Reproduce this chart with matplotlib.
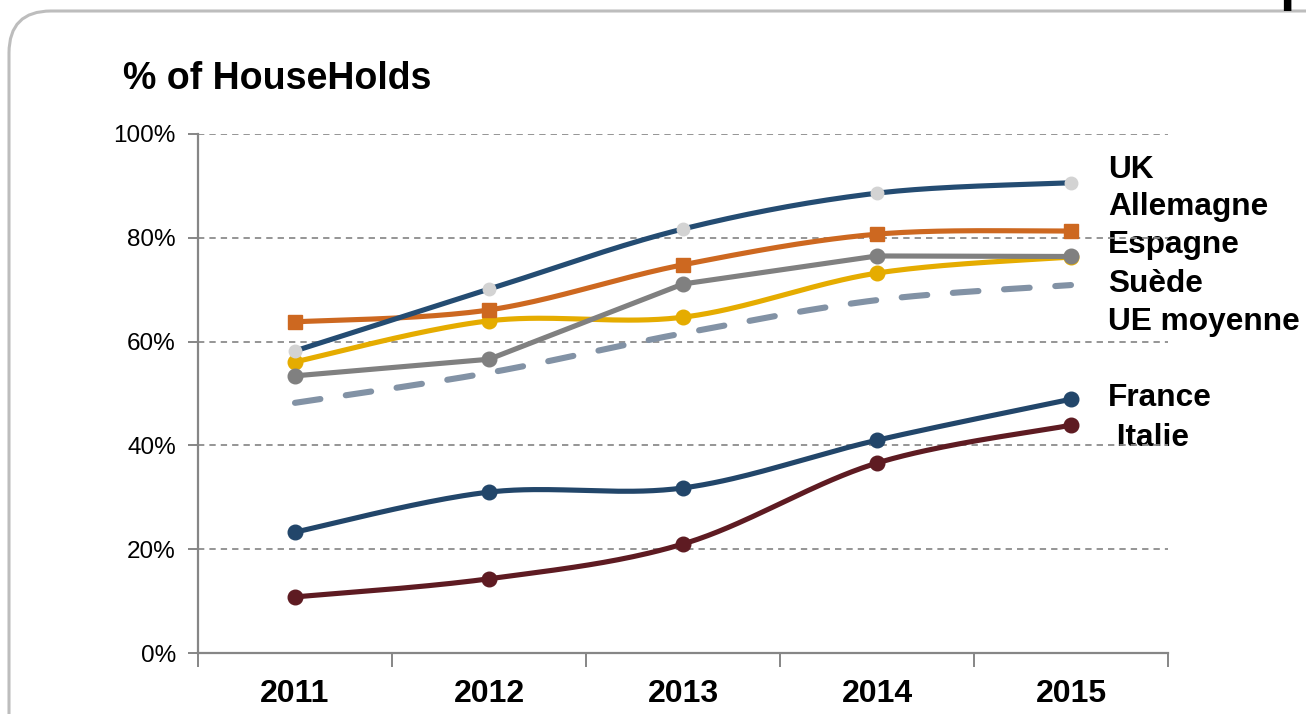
import numpy as np
import matplotlib
matplotlib.use("Agg")
import matplotlib.pyplot as plt
from matplotlib.patches import FancyBboxPatch

plt.rcParams['font.family'] = ['Liberation Sans', 'DejaVu Sans']

years = ["2011", "2012", "2013", "2014", "2015"]
uk = [58.2, 70.1, 81.7, 88.6, 90.6]
allemagne = [63.8, 66.1, 74.8, 80.7, 81.3]
espagne = [56.1, 64.0, 64.7, 73.2, 76.3]
suede = [53.4, 56.6, 71.1, 76.5, 76.4]
ue_moyenne = [48.2, 54.0, 61.6, 68.0, 70.9]
france = [23.3, 31.0, 31.8, 41.0, 48.9]
italie = [10.8, 14.3, 21.0, 36.6, 43.9]
y_ticks = [0, 20, 40, 60, 80, 100]
y_tick_labels = ["0%", "20%", "40%", "60%", "80%", "100%"]
labels = ["UK", "Allemagne", "Espagne", "Suède", "UE moyenne", "France", " Italie"]

W, H = 1306, 714
fig = plt.figure(figsize=(W / 100, H / 100), dpi=100)

# background overlay in pixel coordinates
bg = fig.add_axes([0, 0, 1, 1], zorder=-1)
bg.set_xlim(0, W)
bg.set_ylim(H, 0)
bg.axis('off')
bg.add_patch(FancyBboxPatch((9, 11), 1400, 800, boxstyle="round,pad=0,rounding_size=42",
                            fc='white', ec='#BDBDBD', lw=2.2))
bg.text(1279, -1, "p", fontsize=40, fontweight='bold', ha='left', va='baseline', color='black')
bg.text(123, 79, "% of HouseHolds", fontsize=27, fontweight='bold', ha='left', va='center')

ax = fig.add_axes([198 / W, 1 - 653 / H, (1168 - 198) / W, (653 - 134) / H])
ax.set_facecolor('none')
ax.set_xlim(-0.5, 4.5)
ax.set_ylim(0, 100)


def smooth(xs, ys, n=40):
    P = np.column_stack([xs, ys]).astype(float)
    ext = np.vstack([P[0], P, P[-1]])
    out = [P[0]]
    t = np.linspace(0, 1, n)[1:, None]
    for i in range(len(P) - 1):
        p0, p1, p2, p3 = ext[i], ext[i + 1], ext[i + 2], ext[i + 3]
        c1 = p1 + (p2 - p0) / 6
        c2 = p2 - (p3 - p1) / 6
        seg = ((1 - t) ** 3) * p1 + 3 * ((1 - t) ** 2) * t * c1 + 3 * (1 - t) * t ** 2 * c2 + t ** 3 * p2
        out.extend(seg)
    out = np.array(out)
    return out[:, 0], out[:, 1]


x = np.arange(len(years))
lw = 3.7

def draw(vals, color, smooth_it=True, marker='o', mfc=None, ms=10.5, ls='-', z=3):
    if smooth_it:
        sx, sy = smooth(x, vals)
    else:
        sx, sy = x, np.array(vals)
    if ls != '-':
        ax.plot(sx, sy, color=color, lw=4.4, zorder=z, linestyle=(0, (4.2, 4.2)),
                dash_capstyle='round')
    else:
        ax.plot(sx, sy, color=color, lw=lw, zorder=z, solid_capstyle='round')
    if marker:
        ax.plot(x, vals, linestyle='none', marker=marker, ms=ms,
                mfc=mfc or color, mec=mfc or color, zorder=z + 0.1)

draw(ue_moyenne, '#8292A5', marker=None, ls='--', z=3)
draw(espagne, '#E5AC00', z=4)
draw(suede, '#808080', smooth_it=False, z=5)
draw(allemagne, '#CD6820', marker='s', ms=9.5, z=6)
draw(uk, '#244C72', mfc='#D3D3D3', ms=9, z=7)
draw(france, '#22466A', z=8)
draw(italie, '#5E1B22', z=9)

# grid
for yv in y_ticks[1:]:
    ax.axhline(yv, color='#8C8C8C', lw=1.3, linestyle=(0, (3.5, 2.8)), zorder=1)

for s in ['top', 'right']:
    ax.spines[s].set_visible(False)
for s in ['left', 'bottom']:
    ax.spines[s].set_color('#868686')
    ax.spines[s].set_linewidth(1.6)

ax.set_yticks(y_ticks)
ax.set_yticklabels(y_tick_labels, fontsize=17.5)
ax.tick_params(axis='y', direction='out', length=7, width=1.4, color='#868686', pad=9)

ax.set_xticks(np.arange(-0.5, 4.6, 1.0))
ax.set_xticklabels([])
ax.set_xticks(x, minor=True)
ax.set_xticklabels(years, minor=True, fontsize=23, fontweight='bold')
ax.tick_params(axis='x', which='major', direction='out', length=10, width=1.4, color='#868686')
ax.tick_params(axis='x', which='minor', length=0, pad=19)

# direct labels
label_y = [170, 207, 245, 284, 322, 398, 438]
for lab, ly in zip(labels, label_y):
    bg.text(1108, ly, lab, fontsize=22.8, fontweight='bold', ha='left', va='center', zorder=10)

fig.savefig("out.png", dpi=100)
